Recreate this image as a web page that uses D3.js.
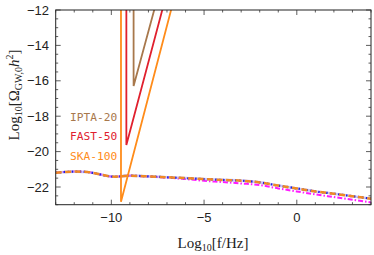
<!DOCTYPE html>
<html>
<head>
<meta charset="utf-8">
<script src="https://cdn.jsdelivr.net/npm/d3@7"></script>
<style>
  html, body { margin: 0; padding: 0; background: #fff; }
  svg { display: block; }
</style>
</head>
<body>
<svg id="chart" width="374" height="255"></svg>
<script>
// log10 f grid for the GW spectra
const logF = [-13, -12.5, -12, -11.3, -10.7, -10.2, -9.8, -9.1, -8, -7, -6, -5, -4, -3, -2, -1, 0, 1, 2, 3, 4];
const spectrumMain = [-21.19, -21.15, -21.13, -21.15, -21.27, -21.38, -21.42, -21.36, -21.40, -21.45, -21.50, -21.55, -21.60, -21.64, -21.74, -21.92, -22.08, -22.25, -22.38, -22.52, -22.66];
const spectrumAlt = [-21.19, -21.15, -21.13, -21.15, -21.27, -21.38, -21.42, -21.36, -21.41, -21.47, -21.55, -21.65, -21.72, -21.80, -21.89, -22.08, -22.25, -22.42, -22.57, -22.72, -22.87];

// PTA sensitivity curves: vertical at f_min, then rising
const ptaNames = ["IPTA-20", "FAST-50", "SKA-100"];
const ptaColors = ["#a8784c", "#e0202e", "#ff8c1a"];
const ptaX = [[-8.80, -8.80, -7.43], [-9.19, -9.19, -7.00], [-9.48, -9.48, -6.53]];
const ptaY = [[-11, -16.29, -11], [-11, -19.63, -11], [-11, -22.83, -11]];

const xTicks = [-10, -5, 0];
const yTicks = [-22, -20, -18, -16, -14, -12];

const margin = { left: 55.7, right: 3, top: 10, bottom: 50.3 };
const W = 374, H = 255;

const x = d3.scaleLinear().domain([-13, 4]).range([margin.left, W - margin.right]);
const y = d3.scaleLinear().domain([-23, -12]).range([H - margin.bottom, margin.top]);

const svg = d3.select("#chart");

svg.append("defs").append("clipPath").attr("id", "plotClip")
    .append("rect")
    .attr("x", x(-13)).attr("y", y(-12))
    .attr("width", x(4) - x(-13)).attr("height", y(-23) - y(-12));

const plot = svg.append("g").attr("clip-path", "url(#plotClip)");

const line = d3.line()
    .x(d => x(d[0]))
    .y(d => y(d[1]))
    .curve(d3.curveMonotoneX);

const mainPts = logF.map((f, i) => [f, spectrumMain[i]]);
const altPts = logF.map((f, i) => [f, spectrumAlt[i]]);

plot.append("path").attr("d", line(altPts))
    .attr("fill", "none").attr("stroke", "#ff1aff").attr("stroke-width", 2)
    .attr("stroke-dasharray", "5,2,1.5,2");
plot.append("path").attr("d", line(mainPts))
    .attr("fill", "none").attr("stroke", "#a9a0f0").attr("stroke-width", 2.6)
    .attr("opacity", 0.6);
plot.append("path").attr("d", line(mainPts))
    .attr("fill", "none").attr("stroke", "#1e1edc").attr("stroke-width", 2.2)
    .attr("stroke-dasharray", "1.5,2.5");
plot.append("path").attr("d", line(mainPts))
    .attr("fill", "none").attr("stroke", "#f08a24").attr("stroke-width", 2.5)
    .attr("stroke-dasharray", "6,3.5");

const straight = d3.line().x(d => x(d[0])).y(d => y(d[1]));
ptaNames.forEach((name, i) => {
    const pts = ptaX[i].map((v, j) => [v, ptaY[i][j]]);
    plot.append("path").attr("d", straight(pts))
        .attr("fill", "none").attr("stroke", ptaColors[i])
        .attr("stroke-width", 1.8).attr("stroke-linejoin", "miter");
});

// labels
ptaNames.forEach((name, i) => {
    svg.append("text")
        .attr("x", 70).attr("y", 120.7 + i * 19.7)
        .attr("font-family", "DejaVu Sans Mono")
        .attr("font-size", "11.2px")
        .attr("fill", ptaColors[i])
        .text(name);
});

// frame
const frame = svg.append("g");
frame.append("rect")
    .attr("x", x(-13)).attr("y", y(-12))
    .attr("width", x(4) - x(-13)).attr("height", y(-23) - y(-12))
    .attr("fill", "none").attr("stroke", "#222").attr("stroke-width", 1);

const xMinor = d3.range(-13, 5, 1).filter(v => v % 5 !== 0);
const yMinor = d3.range(-23, -11.9, 0.5).filter(v => v % 2 !== 0);

function tick(x1, y1, x2, y2) {
    frame.append("line")
        .attr("x1", x1).attr("y1", y1).attr("x2", x2).attr("y2", y2)
        .attr("stroke", "#333").attr("stroke-width", 0.8);
}

xTicks.forEach(v => { tick(x(v), y(-23), x(v), y(-23) - 5); tick(x(v), y(-12), x(v), y(-12) + 5); });
xMinor.forEach(v => { tick(x(v), y(-23), x(v), y(-23) - 2.5); tick(x(v), y(-12), x(v), y(-12) + 2.5); });
yTicks.forEach(v => { tick(x(-13), y(v), x(-13) + 5, y(v)); tick(x(4), y(v), x(4) - 5, y(v)); });
yMinor.forEach(v => { tick(x(-13), y(v), x(-13) + 2.5, y(v)); tick(x(4), y(v), x(4) - 2.5, y(v)); });

const fmt = v => (v < 0 ? "\u2212" + Math.abs(v) : String(v));

xTicks.forEach(v => {
    svg.append("text")
        .attr("x", x(v)).attr("y", 222)
        .attr("text-anchor", "middle")
        .attr("font-family", "Liberation Sans")
        .attr("font-size", "13px").attr("fill", "#222")
        .text(fmt(v));
});
yTicks.forEach(v => {
    svg.append("text")
        .attr("x", 49).attr("y", y(v) + 4.5)
        .attr("text-anchor", "end")
        .attr("font-family", "Liberation Sans")
        .attr("font-size", "13px").attr("fill", "#222")
        .text(fmt(v));
});

// axis titles
const xt = svg.append("text")
    .attr("x", 213).attr("y", 248)
    .attr("text-anchor", "middle")
    .attr("font-family", "Liberation Serif")
    .attr("font-size", "15px").attr("fill", "#222");
xt.append("tspan").text("Log");
xt.append("tspan").attr("font-size", "10px").attr("dy", 3).text("10");
xt.append("tspan").attr("dy", -3).text("[f/Hz]");

const yt = svg.append("text")
    .attr("transform", "translate(19,95) rotate(-90)")
    .attr("text-anchor", "middle")
    .attr("font-family", "Liberation Serif")
    .attr("font-size", "15px").attr("fill", "#222");
yt.append("tspan").text("Log");
yt.append("tspan").attr("font-size", "10px").attr("dy", 3).text("10");
yt.append("tspan").attr("dy", -3).text("[\u03A9");
yt.append("tspan").attr("font-size", "10px").attr("dy", 3).text("GW,0");
yt.append("tspan").attr("dy", -3).attr("font-style", "italic").text("h");
yt.append("tspan").attr("font-size", "10px").attr("dy", -6).text("2");
yt.append("tspan").attr("dy", 6).text("]");
</script>
</body>
</html>
